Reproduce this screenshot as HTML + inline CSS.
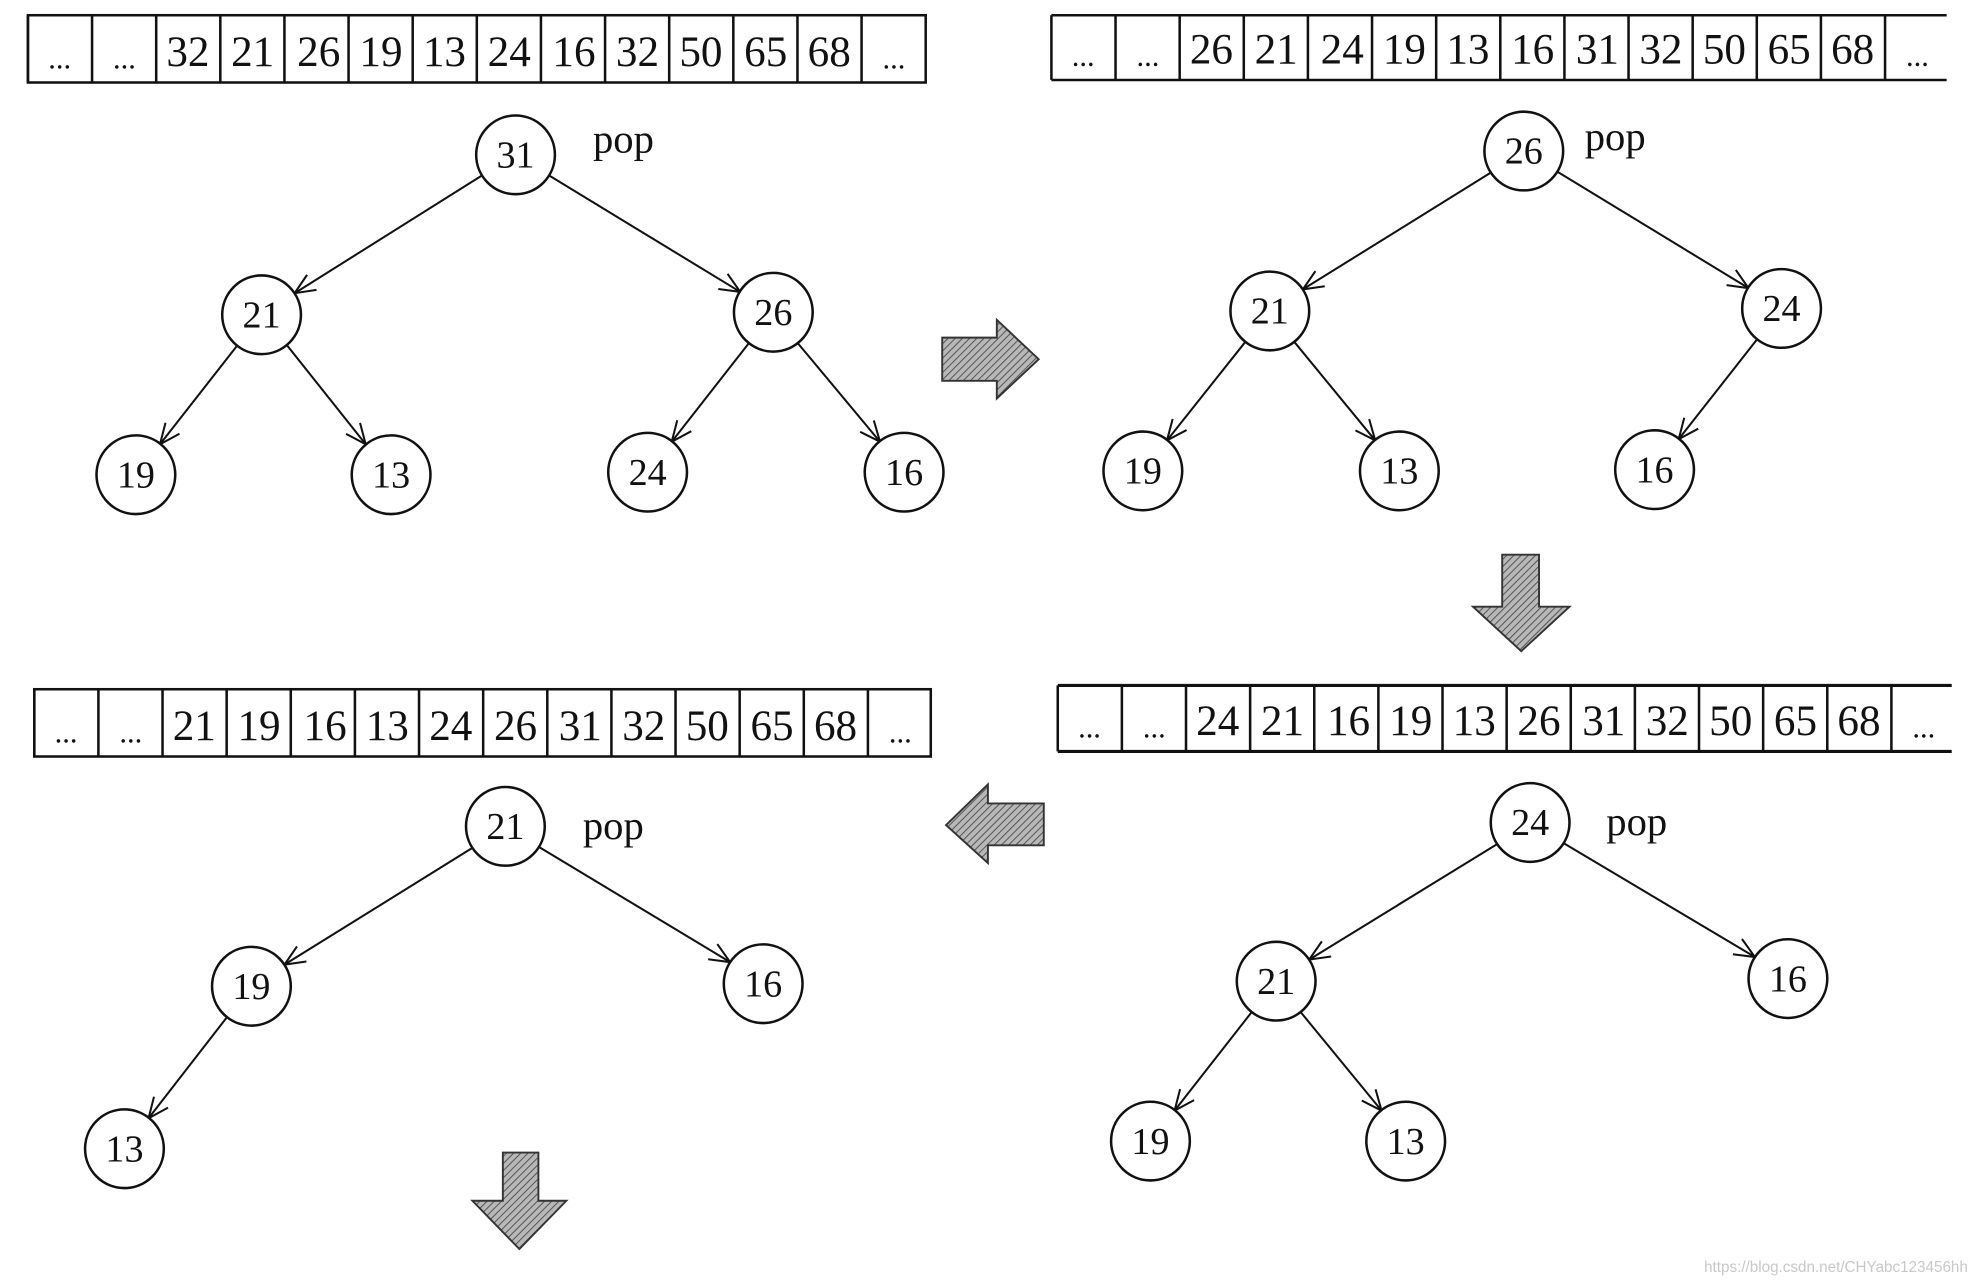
<!DOCTYPE html>
<html><head><meta charset="utf-8"><style>
html,body{margin:0;padding:0;background:#fff;}
svg{display:block;}
text{font-family:"Liberation Serif",serif;fill:#111;}
.c{font-size:30px;text-anchor:middle;}
.a{font-size:34px;text-anchor:middle;}
.d{font-size:24px;text-anchor:middle;}
.p{font-size:32px;}
</style></head><body>
<svg width="1986" height="1282" viewBox="0 0 1564 1010" preserveAspectRatio="none" xmlns="http://www.w3.org/2000/svg">
<defs>
<marker id="m" viewBox="0 0 20 20" refX="18" refY="10" markerWidth="20" markerHeight="20" markerUnits="userSpaceOnUse" orient="auto">
<path d="M2,3 L18,10 L2,17" fill="none" stroke="#111" stroke-width="1.6"/>
</marker>
<pattern id="h" width="4" height="4" patternUnits="userSpaceOnUse" patternTransform="rotate(45)">
<rect width="4" height="4" fill="#b8b8b8"/><line x1="0" y1="0" x2="0" y2="4" stroke="#555" stroke-width="1.6"/>
</pattern>
<g id="cells" stroke="#111" stroke-width="2" fill="none">
<line x1="50.5" y1="0" x2="50.5" y2="53"/><line x1="101" y1="0" x2="101" y2="53"/>
<line x1="151.5" y1="0" x2="151.5" y2="53"/><line x1="202" y1="0" x2="202" y2="53"/>
<line x1="252.5" y1="0" x2="252.5" y2="53"/><line x1="303" y1="0" x2="303" y2="53"/>
<line x1="353.5" y1="0" x2="353.5" y2="53"/><line x1="404" y1="0" x2="404" y2="53"/>
<line x1="454.5" y1="0" x2="454.5" y2="53"/><line x1="505" y1="0" x2="505" y2="53"/>
<line x1="555.5" y1="0" x2="555.5" y2="53"/><line x1="606" y1="0" x2="606" y2="53"/>
<line x1="656.5" y1="0" x2="656.5" y2="53"/>
<line x1="0" y1="0" x2="0" y2="53"/>
</g>
</defs>

<!-- Array 1 -->
<g transform="translate(22,12)">
<rect x="0" y="0" width="707" height="53" fill="none" stroke="#111" stroke-width="2"/>
<use href="#cells"/>
<text class="d" x="25" y="42">...</text><text class="d" x="76" y="42">...</text>
<text class="a" x="126" y="40">32</text><text class="a" x="177" y="40">21</text><text class="a" x="229" y="40">26</text>
<text class="a" x="278" y="40">19</text><text class="a" x="328" y="40">13</text><text class="a" x="379" y="40">24</text>
<text class="a" x="430" y="40">16</text><text class="a" x="480" y="40">32</text><text class="a" x="530" y="40">50</text>
<text class="a" x="581" y="40">65</text><text class="a" x="631" y="40">68</text><text class="d" x="682" y="42">...</text>
</g>

<!-- Array 2 -->
<g transform="translate(828,12)">
<line x1="0" y1="0" x2="705" y2="0" stroke="#111" stroke-width="2"/><line x1="0" y1="51" x2="705" y2="51" stroke="#111" stroke-width="2"/>
<g transform="scale(1,0.96)"><use href="#cells"/></g>
<text class="d" x="25" y="40">...</text><text class="d" x="76" y="40">...</text>
<text class="a" x="126" y="38">26</text><text class="a" x="177" y="38">21</text><text class="a" x="229" y="38">24</text>
<text class="a" x="278" y="38">19</text><text class="a" x="328" y="38">13</text><text class="a" x="379" y="38">16</text>
<text class="a" x="430" y="38">31</text><text class="a" x="480" y="38">32</text><text class="a" x="530" y="38">50</text>
<text class="a" x="581" y="38">65</text><text class="a" x="631" y="38">68</text><text class="d" x="682" y="40">...</text>
</g>

<!-- Array 3 (bottom left) -->
<g transform="translate(27,543)">
<rect x="0" y="0" width="706" height="53" fill="none" stroke="#111" stroke-width="2"/>
<use href="#cells"/>
<text class="d" x="25" y="42">...</text><text class="d" x="76" y="42">...</text>
<text class="a" x="126" y="40">21</text><text class="a" x="177" y="40">19</text><text class="a" x="229" y="40">16</text>
<text class="a" x="278" y="40">13</text><text class="a" x="328" y="40">24</text><text class="a" x="379" y="40">26</text>
<text class="a" x="430" y="40">31</text><text class="a" x="480" y="40">32</text><text class="a" x="530" y="40">50</text>
<text class="a" x="581" y="40">65</text><text class="a" x="631" y="40">68</text><text class="d" x="682" y="42">...</text>
</g>

<!-- Array 4 (bottom right) -->
<g transform="translate(833,540)">
<line x1="0" y1="0" x2="704" y2="0" stroke="#111" stroke-width="2.5"/><line x1="0" y1="52" x2="704" y2="52" stroke="#111" stroke-width="2.5"/>
<g transform="scale(1,0.98)"><use href="#cells"/></g>
<text class="d" x="25" y="41">...</text><text class="d" x="76" y="41">...</text>
<text class="a" x="126" y="39">24</text><text class="a" x="177" y="39">21</text><text class="a" x="229" y="39">16</text>
<text class="a" x="278" y="39">19</text><text class="a" x="328" y="39">13</text><text class="a" x="379" y="39">26</text>
<text class="a" x="430" y="39">31</text><text class="a" x="480" y="39">32</text><text class="a" x="530" y="39">50</text>
<text class="a" x="581" y="39">65</text><text class="a" x="631" y="39">68</text><text class="d" x="682" y="41">...</text>
</g>

<!-- Edges -->
<g stroke="#111" stroke-width="1.6" marker-end="url(#m)">
<line x1="380" y1="138" x2="232" y2="231"/><line x1="432" y1="138" x2="583" y2="230"/>
<line x1="187" y1="272" x2="126" y2="350"/><line x1="226" y1="272" x2="288" y2="350"/>
<line x1="590" y1="270" x2="529" y2="348"/><line x1="628" y1="270" x2="693" y2="348"/>

<line x1="1174" y1="136" x2="1026" y2="228"/><line x1="1226" y1="135" x2="1377" y2="227"/>
<line x1="981" y1="269" x2="919" y2="347"/><line x1="1019" y1="269" x2="1083" y2="347"/>
<line x1="1384" y1="267" x2="1322" y2="346"/>

<line x1="1179" y1="665" x2="1031" y2="756"/><line x1="1231" y1="664" x2="1382" y2="754"/>
<line x1="986" y1="797" x2="925" y2="875"/><line x1="1024" y1="797" x2="1088" y2="875"/>

<line x1="372" y1="668" x2="224" y2="760"/><line x1="424" y1="667" x2="575" y2="758"/>
<line x1="179" y1="801" x2="117" y2="881"/>
</g>

<!-- Nodes -->
<g fill="#fff" stroke="#111" stroke-width="2">
<circle cx="406" cy="122" r="31"/><circle cx="206" cy="248" r="31"/><circle cx="609" cy="246" r="31"/>
<circle cx="107" cy="374" r="31"/><circle cx="308" cy="374" r="31"/><circle cx="510" cy="372" r="31"/><circle cx="712" cy="372" r="31"/>
<circle cx="1200" cy="119" r="31"/><circle cx="1000" cy="245" r="31"/><circle cx="1403" cy="243" r="31"/>
<circle cx="900" cy="371" r="31"/><circle cx="1102" cy="371" r="31"/><circle cx="1303" cy="370" r="31"/>
<circle cx="1205" cy="648" r="31"/><circle cx="1005" cy="773" r="31"/><circle cx="1408" cy="771" r="31"/>
<circle cx="906" cy="899" r="31"/><circle cx="1107" cy="899" r="31"/>
<circle cx="398" cy="651" r="31"/><circle cx="198" cy="777" r="31"/><circle cx="601" cy="775" r="31"/><circle cx="98" cy="905" r="31"/>
</g>
<g class="c">
<text class="c" x="406" y="132">31</text><text class="c" x="206" y="258">21</text><text class="c" x="609" y="256">26</text>
<text class="c" x="107" y="384">19</text><text class="c" x="308" y="384">13</text><text class="c" x="510" y="382">24</text><text class="c" x="712" y="382">16</text>
<text class="c" x="1200" y="129">26</text><text class="c" x="1000" y="255">21</text><text class="c" x="1403" y="253">24</text>
<text class="c" x="900" y="381">19</text><text class="c" x="1102" y="381">13</text><text class="c" x="1303" y="380">16</text>
<text class="c" x="1205" y="658">24</text><text class="c" x="1005" y="783">21</text><text class="c" x="1408" y="781">16</text>
<text class="c" x="906" y="909">19</text><text class="c" x="1107" y="909">13</text>
<text class="c" x="398" y="661">21</text><text class="c" x="198" y="787">19</text><text class="c" x="601" y="785">16</text><text class="c" x="98" y="915">13</text>
</g>
<text class="p" x="467" y="120">pop</text>
<text class="p" x="1248" y="118">pop</text>
<text class="p" x="1265" y="658">pop</text>
<text class="p" x="459" y="661">pop</text>

<!-- Block arrows -->
<g fill="url(#h)" stroke="#333" stroke-width="1.5">
<path d="M742,266 L785,266 L785,252 L818,283 L785,314 L785,300 L742,300 Z"/>
<path d="M1183,437 L1212,437 L1212,478 L1236,478 L1198,513 L1160,478 L1183,478 Z"/>
<path d="M822,633 L778,633 L778,618 L745,650 L778,680 L778,666 L822,666 Z"/>
<path d="M396,908 L424,908 L424,946 L446,946 L409,984 L372,946 L396,946 Z"/>
</g>

<text x="1342" y="1002" style="font-family:'Liberation Sans',sans-serif;font-size:12px;fill:#c8c8c8;">https://blog.csdn.net/CHYabc123456hh</text>
</svg>
</body></html>
